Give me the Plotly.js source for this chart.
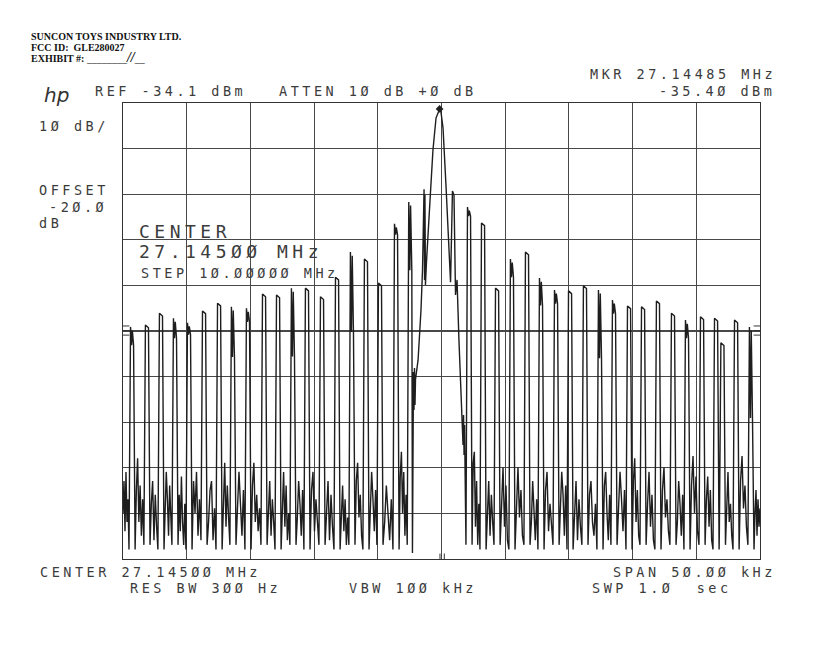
<!DOCTYPE html>
<html>
<head>
<meta charset="utf-8">
<script src="https://cdn.plot.ly/plotly-3.0.1.min.js"></script>
<style>
  html, body { margin: 0; padding: 0; background: #fff; }
  #chart { width: 819px; height: 650px; }
</style>
</head>
<body>
<div id="chart"></div>
<script>
// Spectrum analyzer plot: frequency as offset from 27.14500 MHz (kHz), level in dBm

// narrow sideband spikes (centre offset, top level, smear below the top)
const spikeKHz = [-24.29, -23.12, -22.02, -20.92, -19.82, -18.64, -17.46, -16.37, -15.19, -13.93,
  -12.83, -11.66, -10.56, -9.38, -8.20, -7.03, -5.93, -4.83, -3.57, -2.45,
  2.16, 3.26, 4.36, 5.53, 6.71, 7.81, 8.99, 10.09, 11.26, 12.44,
  13.54, 14.72, 15.82, 16.99, 18.17, 19.27, 20.45, 21.55, 22.05, 23.12, 24.29];
const spikeTopDbm = [-83.2, -82.8, -80.2, -81.3, -82.3, -79.7, -78.0, -78.8, -79.1, -76.0,
  -76.2, -74.7, -74.7, -76.6, -72.3, -66.8, -68.3, -73.6, -60.6, -55.8,
  -56.9, -60.4, -74.7, -68.3, -66.8, -72.5, -75.1, -75.3, -74.2, -75.1,
  -77.3, -78.6, -78.8, -77.5, -80.2, -81.7, -81.0, -81.3, -86.7, -81.7, -83.2];
const spikeSmearDb = [4, 0, 0, 4.4, 2.6, 0, 0, 11, 3, 0,
  0, 15, 0, 0, 0, 17.5, 0, 0, 2.4, 15,
  2, 0, 0, 4, 0, 6, 3, 0, 0, 15,
  3, 0, 0, 0, 0, 4, 0, 0, 0, 0, 20];

// noise floor readings in each gap (before the first spike, between spikes, after the last)
const noiseDbm = [
  [-124, -117, -128, -115, -126, -121, -132],
  [-132, -119, -112, -126, -118, -129, -121, -131],
  [-131, -122, -117, -130, -120, -127, -132],
  [-132, -125, -115, -121, -129, -118, -124, -131],
  [-131, -120, -128, -116, -126, -131, -122, -132],
  [-132, -117, -124, -115, -129, -121, -130],
  [-131, -126, -119, -117, -130, -123, -132],
  [-132, -121, -113, -127, -118, -125, -131],
  [-131, -124, -115, -122, -129, -119, -132],
  [-132, -118, -113, -126, -120, -128, -123, -131],
  [-131, -123, -117, -129, -121, -126, -132],
  [-132, -120, -115, -127, -118, -130, -124, -131],
  [-131, -125, -117, -122, -129, -119, -132],
  [-132, -119, -115, -128, -121, -126, -131],
  [-131, -124, -117, -130, -120, -127, -132],
  [-132, -122, -118, -128, -121, -131, -125, -131],
  [-131, -117, -113, -125, -120, -129, -132],
  [-132, -124, -115, -121, -128, -119, -131],
  [-131, -126, -118, -123, -130, -121, -132],
  [-132, -116, -110.6, -124, -115, -129, -120, -131],
  [-131, -113, -110.6, -127, -117, -131, -122, -132],
  [-132, -124, -117, -129, -120, -126, -131],
  [-131, -120, -114, -127, -118, -130, -132],
  [-132, -122, -114, -125, -119, -129, -131],
  [-131, -126, -117, -123, -130, -121, -132],
  [-132, -119, -115, -128, -122, -126, -131],
  [-131, -123, -115, -120, -129, -118, -132],
  [-132, -125, -117, -130, -121, -127, -131],
  [-131, -120, -117, -126, -129, -122, -132],
  [-132, -118, -115, -124, -130, -120, -131],
  [-131, -124, -115, -121, -128, -119, -132],
  [-132, -117, -112, -126, -119, -129, -131],
  [-131, -122, -115, -127, -120, -130, -132],
  [-132, -119, -114, -125, -121, -128, -131],
  [-131, -126, -117, -122, -129, -120, -132],
  [-132, -118, -111.5, -124, -116, -128, -131],
  [-131, -121, -116, -127, -119, -130, -132],
  [-132, -128],
  [-131, -120, -115, -126, -122, -129, -132],
  [-132, -117, -111.5, -123, -118, -127, -131],
  [-132, -124, -119, -129, -121, -127, -123],
];

// carrier skirt and peak around the centre
const carrierKHz = [-2.28, -2.24, -2.20, -2.16, -2.12, -2.08, -2.04, -1.84, -1.61, -1.49,
  -1.37, -1.33, -1.30, -1.26, -1.18, -0.90, -0.67, -0.43, -0.27, -0.15,
  -0.04, 0.12, 0.35, 0.59, 0.71, 0.86, 0.98, 1.10, 1.22, 1.37,
  1.53, 1.61, 1.69, 1.73, 1.77, 1.81, 1.84, 1.92];
const carrierDbm = [-132.8, -108.0, -93.1, -101.4, -92.2, -100.3, -94.7, -90.5, -79.5, -70.7,
  -53.0, -72.9, -54.3, -74.0, -69.0, -55.4, -44.4, -37.4, -36.0, -35.4,
  -36.1, -39.6, -52.1, -67.4, -73.4, -53.4, -54.3, -76.2, -72.9, -86.1,
  -98.1, -101.9, -109.1, -102.5, -111.3, -104.7, -113.0, -131.0];

// marker: 27.14485 MHz, -35.40 dBm
const markerKHz = [-0.15];
const markerDbm = [-35.4];

// display-line flags on both frame edges (dBm) and frequency ticks on the bottom edge (kHz)
const flagDbm = [-83.0, -84.0, -85.0];
const baseTickKHz = [-0.12, 0.22];

const SPAN = [-25, 25];
const REF = -34.1;
const DB_DIV = 10;

// ---- build the sweep in frequency order ----
const HT = 0.12;     // half width of a spike top (kHz)
const EDGE = 0.12;   // run of a spike flank (kHz)
const xs = [], ys = [];

function pushGap(vals, from, to) {
  const n = vals.length;
  vals.forEach((v, i) => {
    xs.push(n === 1 ? (from + to) / 2 : from + (to - from) * i / (n - 1));
    ys.push(v);
  });
}

function pushSpike(k) {
  const f = spikeKHz[k], top = spikeTopDbm[k], s = spikeSmearDb[k];
  xs.push(f - HT); ys.push(top);
  if (s > 0) {
    xs.push(f - HT * 0.3, f + HT * 0.2, f + HT);
    ys.push(top - s, top - 0.8, top - s);
  } else {
    xs.push(f + HT); ys.push(top - 0.6);
  }
}

const firstRight = spikeKHz.findIndex(f => f > 0);
let gi = 0;
pushGap(noiseDbm[gi++], SPAN[0], spikeKHz[0] - HT - EDGE);
spikeKHz.forEach((f, k) => {
  pushSpike(k);
  if (k === firstRight - 1) {
    carrierKHz.forEach((c, i) => { xs.push(c); ys.push(carrierDbm[i]); });
  } else if (k < spikeKHz.length - 1) {
    pushGap(noiseDbm[gi++], f + HT + EDGE, spikeKHz[k + 1] - HT - EDGE);
  } else {
    pushGap(noiseDbm[gi++], f + HT + EDGE, SPAN[1]);
  }
});

// ---- annotations placed in screen pixels ----
const PL = 123, PT = 103, PW = 637, PH = 456;
const INK = '#3c3c3c';
const MONO = 'DejaVu Sans Mono';

function note(text, x, y, size, spacing, font) {
  return {
    text: spacing ? `<span style="letter-spacing:${spacing}px">${text}</span>` : text,
    xref: 'paper', yref: 'paper',
    x: (x - PL) / PW, y: (PT + PH - y) / PH,
    xanchor: 'left', yanchor: 'middle', showarrow: false,
    font: Object.assign({ family: MONO, size, color: INK }, font || {}),
  };
}

const NB = '\u00A0';
const small = (t, x, y) => note(t, x, y, 13.5, 3.5);
const serif = { family: 'Liberation Serif', color: '#111' };

const annotations = [
  note('<b>SUNCON TOYS INDUSTRY LTD.</b>', 29, 36, 10, 0, serif),
  note('<b>FCC ID:' + NB + NB + 'GLE280027</b>', 29, 47, 10, 0, serif),
  note('<b>EXHIBIT #:</b>' + NB + '________<span style="font-size:14px"><i><b>//</b></i></span>__', 29, 57, 10, 0, serif),
  note('<i>hp</i>', 42, 95, 20, 0, { family: 'DejaVu Sans', color: '#333' }),
  small('REF -34.1 dBm', 93, 91),
  small('ATTEN 1Ø dB +Ø dB', 277, 91),
  small('MKR 27.14485 MHz', 588, 74),
  small('-35.4Ø dBm', 657, 91),
  small('1Ø dB/', 37, 126),
  small('OFFSET', 37, 190),
  small('-2Ø.Ø', 47, 207),
  small('dB', 37, 223),
  note('CENTER', 137, 231, 18, 4.5),
  note('27.145ØØ MHz', 137, 251, 18, 4.5),
  small('STEP 1Ø.ØØØØØ MHz', 139, 273),
  small('CENTER 27.145ØØ MHz', 38, 572),
  small('SPAN 5Ø.ØØ kHz', 611, 572),
  small('RES BW 3ØØ Hz', 128, 588),
  small('VBW 1ØØ kHz', 347, 588),
  small('SWP 1.Ø' + NB + NB + 'sec', 590, 588),
];

const FRAME = '#333';
const shapes = [];
flagDbm.forEach(v => {
  shapes.push({ type: 'line', xref: 'paper', yref: 'y', x0: 0, x1: 0.01, y0: v, y1: v, line: { color: FRAME, width: 1 } });
  shapes.push({ type: 'line', xref: 'paper', yref: 'y', x0: 0.99, x1: 1, y0: v, y1: v, line: { color: FRAME, width: 1 } });
});
baseTickKHz.forEach(f => {
  shapes.push({ type: 'line', xref: 'x', yref: 'paper', x0: f, x1: f, y0: 0, y1: 0.012, line: { color: FRAME, width: 1 } });
});

const GRID = '#484848';

Plotly.newPlot('chart', [
  {
    x: xs, y: ys, type: 'scatter', mode: 'lines',
    line: { color: '#1e1e1e', width: 1.4 },
    hoverinfo: 'skip',
  },
  {
    x: markerKHz, y: markerDbm, type: 'scatter', mode: 'markers',
    marker: { symbol: 'diamond', size: 6, color: '#222' },
    hoverinfo: 'skip',
  },
], {
  width: 819, height: 650,
  paper_bgcolor: '#fff', plot_bgcolor: '#fff',
  margin: { l: PL, r: 819 - PL - PW, t: PT, b: 650 - PT - PH, pad: 0 },
  showlegend: false,
  xaxis: {
    range: SPAN, tick0: 0, dtick: 5,
    showgrid: true, gridcolor: GRID, gridwidth: 1.1,
    zeroline: false, showticklabels: false, ticks: '',
    showline: true, linecolor: FRAME, linewidth: 1.2, mirror: true,
    fixedrange: true,
  },
  yaxis: {
    range: [REF - 10 * DB_DIV, REF], tick0: REF, dtick: DB_DIV,
    showgrid: true, gridcolor: GRID, gridwidth: 1.1,
    zeroline: false, showticklabels: false, ticks: '',
    showline: true, linecolor: FRAME, linewidth: 1.2, mirror: true,
    fixedrange: true,
  },
  shapes,
  annotations,
}, { displayModeBar: false, staticPlot: true });
</script>
</body>
</html>
